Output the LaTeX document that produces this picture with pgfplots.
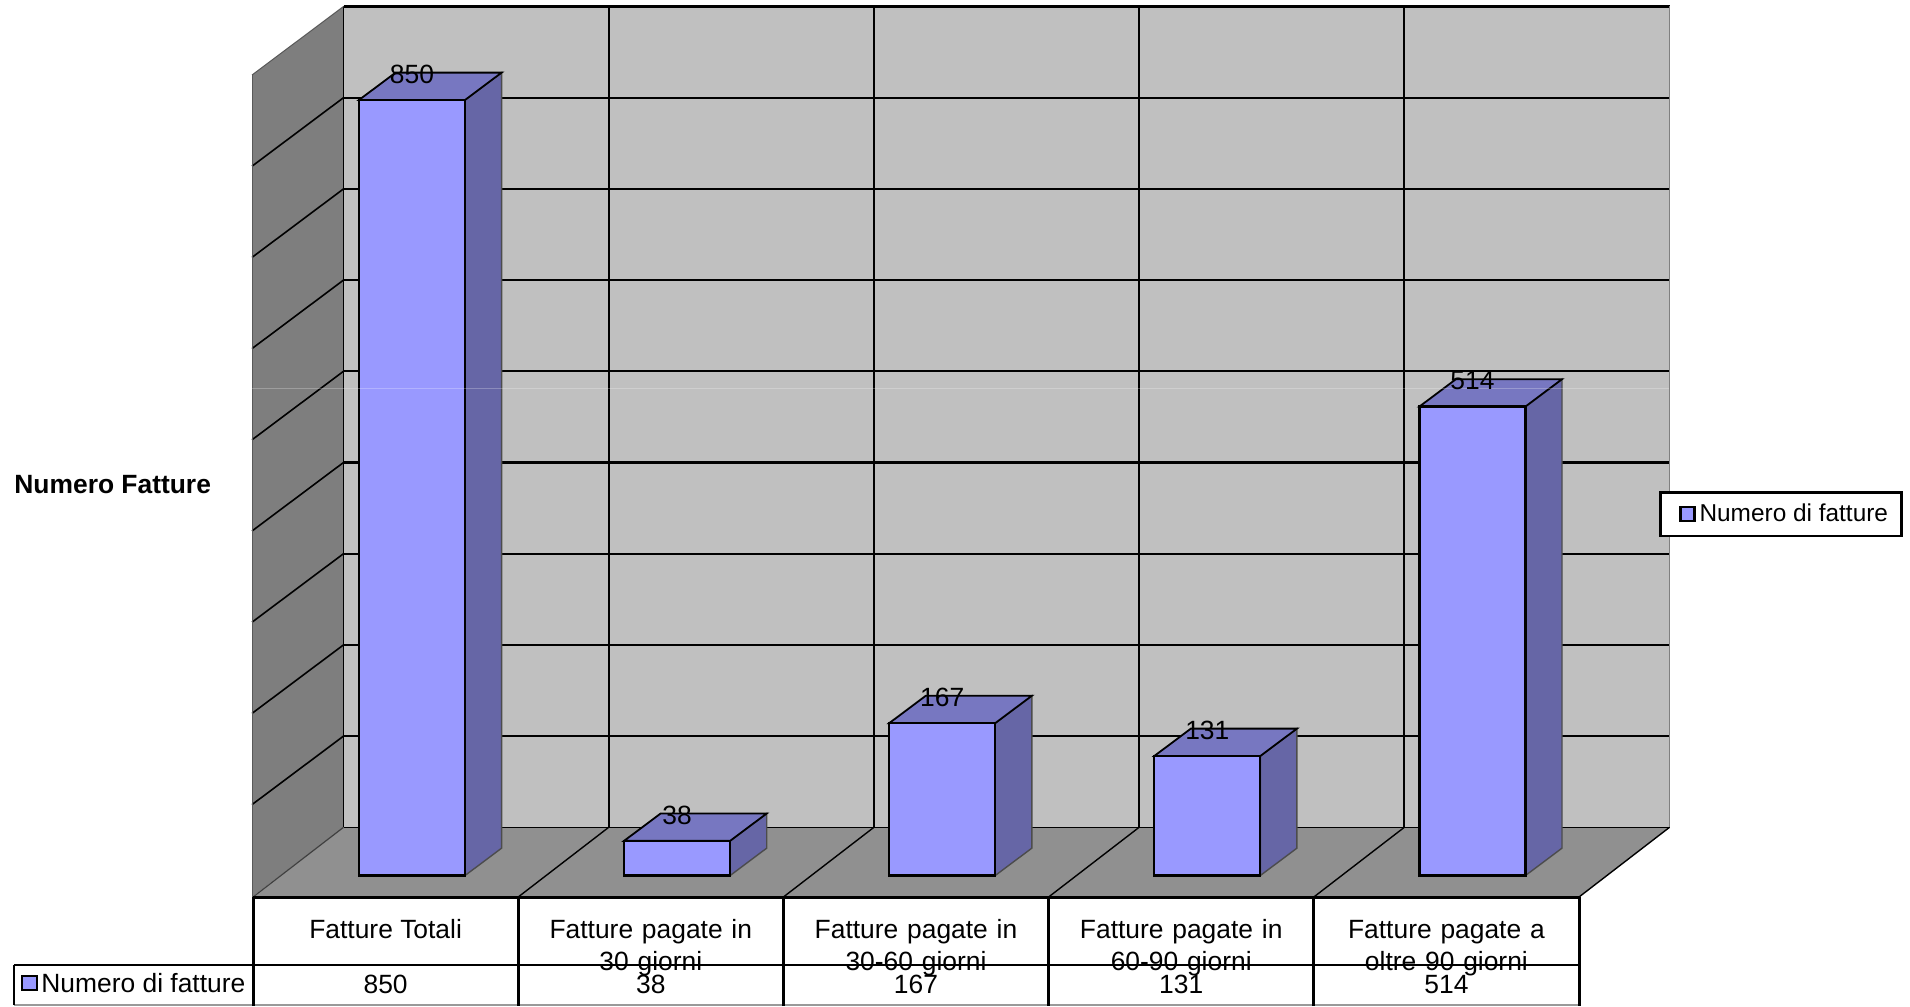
\documentclass[border=0pt]{standalone}
\usepackage{pgfplots}
\usepackage{fontspec}
\setmainfont{Liberation Sans}
\pgfplotsset{compat=1.18}
\definecolor{barfront}{HTML}{9999FF}
\definecolor{barside}{HTML}{6666A6}
\definecolor{bartop}{HTML}{7777C1}
\definecolor{wallback}{HTML}{C0C0C0}
\definecolor{wallleft}{HTML}{7E7E7E}
\definecolor{floorc}{HTML}{909090}
% one reference pixel is 0.5pt
\newcommand{\seg}[5]{\addplot[#1] coordinates {(#2,#3) (#4,#5)};}
\newcommand{\lab}{\fontsize{13.2}{15}\selectfont}
\begin{document}
\begin{tikzpicture}
\path[use as bounding box] (0,0) rectangle (955pt,503pt);
% walls, floor and table, in pixel coordinates
\begin{axis}[
  at={(0,0)}, anchor=south west,
  scale only axis, width=955pt, height=503pt,
  xmin=0, xmax=1910, ymin=0, ymax=1006, y dir=reverse,
  hide axis, clip=false,
]
\addplot[fill=wallback, draw=none] coordinates {(343.5,6.5) (1669.5,6.5) (1669.5,827.3) (343.5,827.3)} --cycle;
\addplot[fill=wallleft, draw=none] coordinates {(252,75) (343.5,6.5) (343.5,827.3) (252,897)} --cycle;
\addplot[fill=floorc, draw=none] coordinates {(253,897) (343.5,827.3) (1669.5,827.3) (1579,897)} --cycle;
% back grid
\seg{black, line width=1.1pt}{343.5}{6.5}{1669.5}{6.5}
\seg{black, line width=1.1pt}{343.5}{97.7}{1669.5}{97.7}
\seg{black, line width=1.1pt}{343.5}{188.9}{1669.5}{188.9}
\seg{black, line width=1.1pt}{343.5}{280.1}{1669.5}{280.1}
\seg{black, line width=1.1pt}{343.5}{371.3}{1669.5}{371.3}
\seg{black, line width=1.1pt}{343.5}{462.5}{1669.5}{462.5}
\seg{black, line width=1.1pt}{343.5}{553.7}{1669.5}{553.7}
\seg{black, line width=1.1pt}{343.5}{644.9}{1669.5}{644.9}
\seg{black, line width=1.1pt}{343.5}{736.1}{1669.5}{736.1}
\seg{black, line width=0.7pt}{343.5}{827.3}{1669.5}{827.3}
\seg{black, line width=0.9pt}{343.5}{6.5}{343.5}{827.3}
\seg{black, line width=0.9pt}{608.7}{6.5}{608.7}{827.3}
\seg{black, line width=0.9pt}{873.9}{6.5}{873.9}{827.3}
\seg{black, line width=0.9pt}{1139.1}{6.5}{1139.1}{827.3}
\seg{black, line width=0.9pt}{1404.3}{6.5}{1404.3}{827.3}
\seg{black!50, line width=0.9pt}{1669.5}{6.5}{1669.5}{827.3}
% left wall lines
\seg{black, line width=0.8pt}{252}{166.2}{343.5}{97.7}
\seg{black, line width=0.8pt}{252}{257.4}{343.5}{188.9}
\seg{black, line width=0.8pt}{252}{348.6}{343.5}{280.1}
\seg{black, line width=0.8pt}{252}{439.8}{343.5}{371.3}
\seg{black, line width=0.8pt}{252}{531}{343.5}{462.5}
\seg{black, line width=0.8pt}{252}{622.2}{343.5}{553.7}
\seg{black, line width=0.8pt}{252}{713.4}{343.5}{644.9}
\seg{black, line width=0.8pt}{252}{804.6}{343.5}{736.1}
\seg{black!65, line width=0.5pt}{252}{75}{343.5}{6.5}
\seg{black!65, line width=0.5pt}{252}{75}{252}{897}
% floor lines
\seg{black!75, line width=0.6pt}{253}{897}{343.5}{827.3}
\seg{black, line width=0.7pt}{518.2}{897}{608.7}{827.3}
\seg{black, line width=0.7pt}{783.4}{897}{873.9}{827.3}
\seg{black, line width=0.7pt}{1048.6}{897}{1139.1}{827.3}
\seg{black, line width=0.7pt}{1313.8}{897}{1404.3}{827.3}
\seg{black, line width=0.7pt}{1579}{897}{1669.5}{827.3}
% table text
\node[align=center, font=\lab, anchor=base] at (axis cs:385.6,938.5) {Fatture Totali};
\node[align=center, font=\lab, anchor=base, text width=230pt] at (axis cs:650.8,938.5) {Fatture pagate in\\[1.2pt]30 giorni};
\node[align=center, font=\lab, anchor=base, text width=230pt] at (axis cs:916,938.5) {Fatture pagate in\\[1.2pt]30-60 giorni};
\node[align=center, font=\lab, anchor=base, text width=230pt] at (axis cs:1181.2,938.5) {Fatture pagate in\\[1.2pt]60-90 giorni};
\node[align=center, font=\lab, anchor=base, text width=230pt] at (axis cs:1446.4,938.5) {Fatture pagate a\\[1.2pt]oltre 90 giorni};
\node[font=\lab, anchor=base] at (axis cs:385.6,993) {850};
\node[font=\lab, anchor=base] at (axis cs:650.8,993) {38};
\node[font=\lab, anchor=base] at (axis cs:916,993) {167};
\node[font=\lab, anchor=base] at (axis cs:1181.2,993) {131};
\node[font=\lab, anchor=base] at (axis cs:1446.4,993) {514};
\node[font=\lab, anchor=base west, inner sep=0pt] at (axis cs:41,992) {Numero di fatture};
\node[font=\lab\bfseries, anchor=center, inner sep=0pt] at (axis cs:112.7,485) {Numero Fatture};
% table rules
\seg{black, line width=1.5pt}{253}{897}{1579}{897}
\seg{black, line width=1.3pt}{14}{965}{1579}{965}
\seg{black!40, line width=0.8pt}{14}{1005}{1579}{1005}
\seg{black, line width=1.3pt}{14}{965}{14}{1005}
\seg{black, line width=1.5pt}{253}{897}{253}{1006}
\seg{black, line width=1.5pt}{518.2}{897}{518.2}{1006}
\seg{black, line width=1.5pt}{783.4}{897}{783.4}{1006}
\seg{black, line width=1.5pt}{1048.6}{897}{1048.6}{1006}
\seg{black, line width=1.5pt}{1313.8}{897}{1313.8}{1006}
\seg{black, line width=1.5pt}{1579}{897}{1579}{1006}
\addplot[fill=barfront, draw=black, line width=1.1pt] coordinates {(22,976) (37,976) (37,990) (22,990)} --cycle;
\end{axis}
% bars: x is the category, y the number of invoices
\begin{axis}[
  at={(0,0)}, anchor=south west,
  scale only axis, width=955pt, height=503pt,
  xmin=-1.5541, xmax=5.6506, ymin=-143, ymax=959.6,
  hide axis, clip=false,
  /pgf/number format/assume math mode=true,
  legend style={at={(axis cs:5.164,396)}, anchor=center, draw=black, line width=1.2pt,
    font=\fontsize{12.2}{14}\selectfont, inner xsep=4.7pt, inner ysep=3.6pt,
    cells={anchor=west}, legend cell align=left},
]
% side faces
\addplot[forget plot, fill=barside, draw=black!70, line width=0.7pt] coordinates {(0.2,0) (0.2,850) (0.338,880) (0.338,30)} --cycle;
\addplot[forget plot, fill=barside, draw=black!70, line width=0.7pt] coordinates {(1.2,0) (1.2,38) (1.338,68) (1.338,30)} --cycle;
\addplot[forget plot, fill=barside, draw=black!70, line width=0.7pt] coordinates {(2.2,0) (2.2,167) (2.338,197) (2.338,30)} --cycle;
\addplot[forget plot, fill=barside, draw=black!70, line width=0.7pt] coordinates {(3.2,0) (3.2,131) (3.338,161) (3.338,30)} --cycle;
\addplot[forget plot, fill=barside, draw=black!70, line width=0.7pt] coordinates {(4.2,0) (4.2,514) (4.338,544) (4.338,30)} --cycle;
% top faces
\addplot[forget plot, fill=bartop, draw=black, line width=0.9pt] coordinates {(-0.2,850) (0.2,850) (0.338,880) (-0.062,880)} --cycle;
\addplot[forget plot, fill=bartop, draw=black, line width=0.9pt] coordinates {(0.8,38) (1.2,38) (1.338,68) (0.938,68)} --cycle;
\addplot[forget plot, fill=bartop, draw=black, line width=0.9pt] coordinates {(1.8,167) (2.2,167) (2.338,197) (1.938,197)} --cycle;
\addplot[forget plot, fill=bartop, draw=black, line width=0.9pt] coordinates {(2.8,131) (3.2,131) (3.338,161) (2.938,161)} --cycle;
\addplot[forget plot, fill=bartop, draw=black, line width=0.9pt] coordinates {(3.8,514) (4.2,514) (4.338,544) (3.938,544)} --cycle;
% front faces
\addplot[ybar, bar width=53pt, bar shift=0pt, fill=barfront, draw=black, line width=1.1pt,
  legend image code/.code={\path (-4.7pt,0pt); \draw[fill=barfront, draw=black, line width=1.1pt] (0pt,-3.5pt) rectangle (7pt,3.5pt);},
  nodes near coords, nodes near coords align={center},
  every node near coord/.append style={font=\lab, anchor=center, yshift=12.8pt, black},
] coordinates {(0,850) (1,38) (2,167) (3,131) (4,514)};
% faint seam that crosses the picture
\addplot[forget plot, white, opacity=0.25, line width=0.5pt] coordinates {(-0.6035,534) (4.743,534)};
\legend{Numero di fatture}
\end{axis}
\end{tikzpicture}
\end{document}
